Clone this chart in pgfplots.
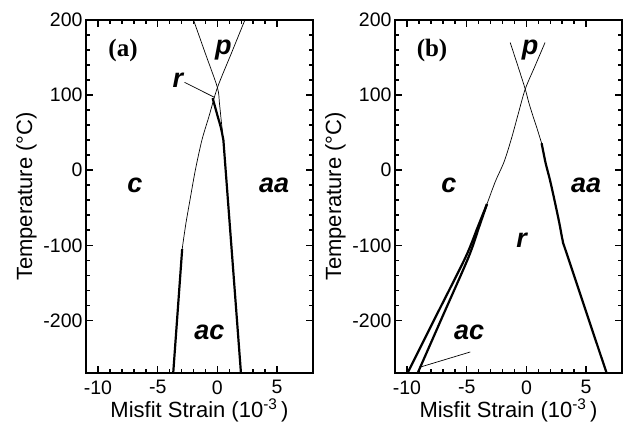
\documentclass[border=0pt]{standalone}
\usepackage{fontspec}
\setmainfont{Liberation Sans}
\newfontfamily\timesfont{Liberation Serif}
\usepackage{pgfplots}
\pgfplotsset{compat=1.18}
\begin{document}
\begin{tikzpicture}
\pgfplotsset{
  phase/.style={
    width=227pt, height=353pt, scale only axis,
    xmin=-11, xmax=8, ymin=-270, ymax=200,
    xtick={-10,-5,0,5}, ytick={-200,-100,0,100,200},
    minor x tick num=4, minor y tick num=4,
    tick align=inside,
    major tick length=7pt, minor tick length=4pt,
    axis line style={line width=2.2pt},
    every tick/.style={line width=1.6pt, black},
    tick label style={font=\fontsize{19.5}{21}\selectfont},
    xticklabel style={yshift=-4pt},
    /pgf/number format/assume math mode=true,
    label style={font=\fontsize{22}{24}\selectfont},
    xlabel={Misfit Strain (10\textsuperscript{-3}\,)},
    ylabel={Temperature (°C)},
    xlabel style={yshift=2pt},
  },
}
\tikzset{
  thinl/.style={black, line width=0.7pt},
  thickl/.style={black, line width=2.2pt},
  reg/.style={font=\fontsize{27}{29}\selectfont\bfseries\itshape},
  pan/.style={font=\fontsize{25}{27}\selectfont\timesfont\bfseries},
}
% panel (a)
\begin{axis}[phase]
\addplot[thinl, smooth] coordinates {(-2,200) (-1,155) (0,110) (0.17,89) (0.32,66) (0.44,49)};
\addplot[thinl, smooth] coordinates {(2.3,200) (1.15,155) (0,110) (-0.7,72) (-1.3,40) (-1.85,0) (-2.3,-40) (-2.65,-72) (-2.95,-105)};
\addplot[thickl] coordinates {(-2.95,-105) (-3.7,-270)};
\addplot[thickl, smooth] coordinates {(-0.4,96) (0.0,73) (0.3,56) (0.5,40)};
\addplot[thickl] coordinates {(0.5,40) (1.97,-270)};
\addplot[thinl] coordinates {(-2.75,117) (-0.25,97)};
\node[pan] at (axis cs:-7.9,160) {(a)};
\node[reg] at (axis cs:0.5,160) {p};
\node[reg] at (axis cs:-3.3,120) {r};
\node[reg] at (axis cs:-6.9,-20) {c};
\node[reg] at (axis cs:4.75,-20) {aa};
\node[reg] at (axis cs:-0.67,-216) {ac};
\end{axis}
% panel (b)
\begin{axis}[phase, at={(309pt,0)}]
\addplot[thinl, smooth] coordinates {(-1.36,170) (-0.7,138) (-0.1,108) (0.2,90) (0.55,72) (0.9,55) (1.27,36)};
\addplot[thickl, smooth] coordinates {(1.27,36) (1.6,10) (1.97,-13) (2.35,-40) (2.75,-70) (3.05,-95) (3.35,-110) (6.69,-269)};
\addplot[thinl, smooth] coordinates {(1.56,170) (0.7,138) (-0.1,108) (-0.67,76) (-1.22,44) (-1.85,12) (-2.6,-15) (-3.3,-45)};
\addplot[thickl, smooth] coordinates {(-3.3,-45) (-4.06,-75) (-5.1,-116) (-7.59,-195) (-9.95,-270)};
\addplot[thickl, smooth] coordinates {(-3.3,-45) (-3.95,-75) (-4.85,-116) (-7.03,-195) (-9.1,-270)};
\addplot[thinl] coordinates {(-4.7,-242) (-8.86,-262)};
\node[pan] at (axis cs:-7.9,160) {(b)};
\node[reg] at (axis cs:0.3,160) {p};
\node[reg] at (axis cs:-0.4,-93) {r};
\node[reg] at (axis cs:-6.5,-20) {c};
\node[reg] at (axis cs:5.0,-20) {aa};
\node[reg] at (axis cs:-4.8,-216) {ac};
\end{axis}
\pgfresetboundingbox
\path (-86pt,-55pt) rectangle (537pt,373pt);
\end{tikzpicture}
\end{document}
